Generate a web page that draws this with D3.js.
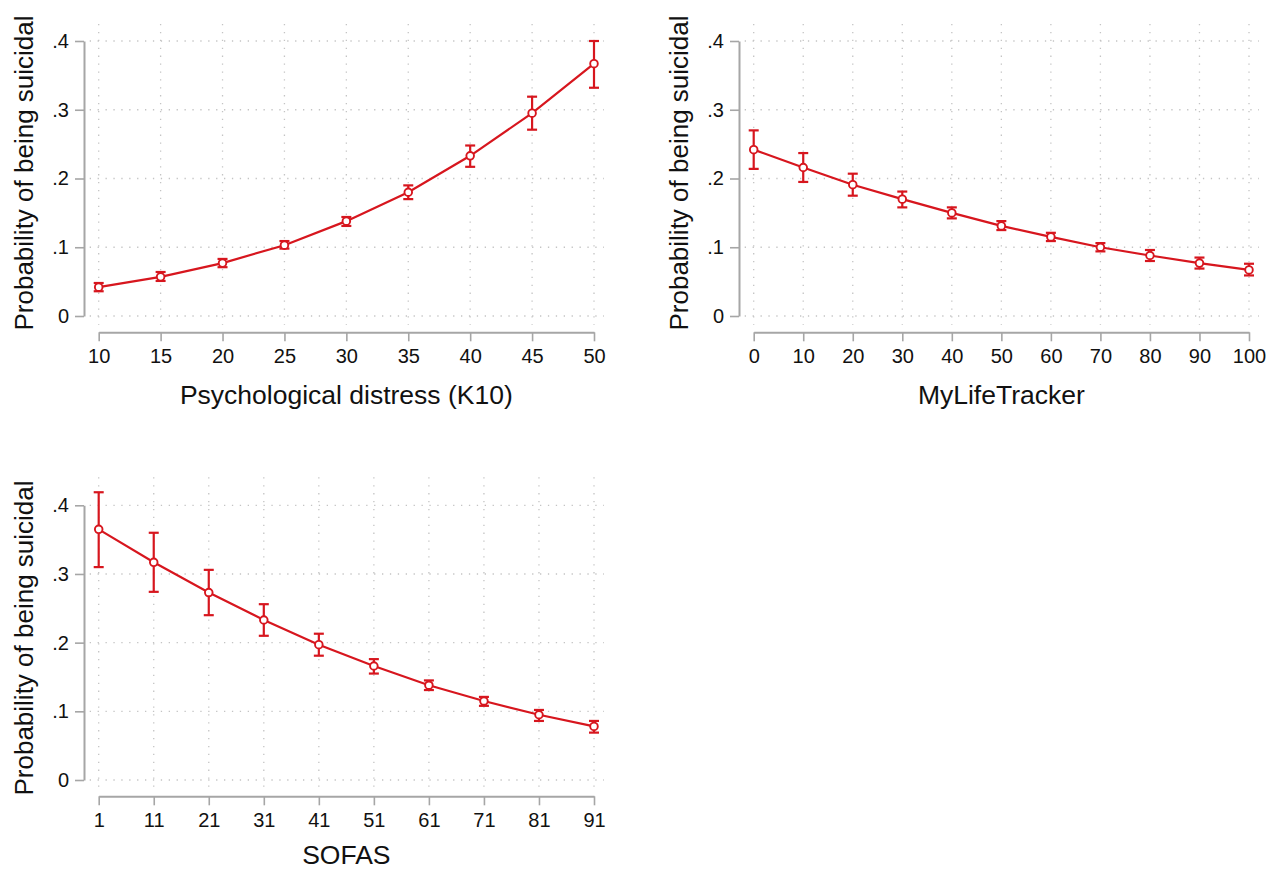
<!DOCTYPE html>
<html>
<head>
<meta charset="utf-8">
<script src="https://cdn.jsdelivr.net/npm/d3@7"></script>
<style>
  body { margin: 0; background: #fff; }
  svg { display: block; font-family: "Liberation Sans", Arial, sans-serif; }
</style>
</head>
<body>
<div id="chart"></div>
<script>
// data
var yTicks = [0, 0.1, 0.2, 0.3, 0.4];

var k10X  = [10, 15, 20, 25, 30, 35, 40, 45, 50];
var k10P  = [0.042, 0.057, 0.077, 0.103, 0.138, 0.180, 0.233, 0.295, 0.367];
var k10Lo = [0.036, 0.051, 0.071, 0.098, 0.131, 0.170, 0.217, 0.271, 0.332];
var k10Hi = [0.048, 0.064, 0.083, 0.109, 0.144, 0.190, 0.248, 0.319, 0.400];

var mltX  = [0, 10, 20, 30, 40, 50, 60, 70, 80, 90, 100];
var mltP  = [0.242, 0.216, 0.191, 0.170, 0.150, 0.131, 0.115, 0.100, 0.088, 0.077, 0.067];
var mltLo = [0.214, 0.195, 0.175, 0.158, 0.142, 0.125, 0.109, 0.094, 0.080, 0.069, 0.059];
var mltHi = [0.270, 0.237, 0.207, 0.181, 0.158, 0.138, 0.121, 0.106, 0.096, 0.085, 0.076];

var sofasX  = [1, 11, 21, 31, 41, 51, 61, 71, 81, 91];
var sofasP  = [0.365, 0.317, 0.273, 0.233, 0.197, 0.166, 0.138, 0.115, 0.095, 0.078];
var sofasLo = [0.310, 0.274, 0.240, 0.210, 0.181, 0.155, 0.131, 0.108, 0.086, 0.069];
var sofasHi = [0.419, 0.360, 0.306, 0.256, 0.213, 0.176, 0.145, 0.121, 0.102, 0.086];

var yTitle = "Probability of being suicidal";
var red = "#d7161e";
var axisGrey = "#a6a6a6";
var gridGrey = "#c4c4c4";

var W = 1266, H = 870;

var panels = [
  { title: "Psychological distress (K10)", xs: k10X, p: k10P, lo: k10Lo, hi: k10Hi,
    x0: 98.7, x1: 594, yBottom: 316, yTop: 41, gridTop: 17, yTitleX: 33, yTitleY: 173, xTitleY: 404 },
  { title: "MyLifeTracker", xs: mltX, p: mltP, lo: mltLo, hi: mltHi,
    x0: 753.7, x1: 1249, yBottom: 316, yTop: 41, gridTop: 17, yTitleX: 688, yTitleY: 173, xTitleY: 404 },
  { title: "SOFAS", xs: sofasX, p: sofasP, lo: sofasLo, hi: sofasHi,
    x0: 98.7, x1: 594, yBottom: 780, yTop: 505.3, gridTop: 28, yTitleX: 33, yTitleY: 638, xTitleY: 864 }
];

var svg = d3.select("#chart").append("svg")
    .attr("width", W)
    .attr("height", H);

panels.forEach(function (pn) {
  var x = d3.scaleLinear()
      .domain([pn.xs[0], pn.xs[pn.xs.length - 1]])
      .range([pn.x0, pn.x1]);
  var y = d3.scaleLinear()
      .domain([0, 0.4])
      .range([pn.yBottom, pn.yTop]);

  var g = svg.append("g");

  var gridLeft = pn.x0 - 9, gridRight = pn.x1 + 10;
  var gridTopY = pn.yTop - pn.gridTop, gridBotY = pn.yBottom + 9;

  // dotted grid
  g.selectAll(".hgrid")
    .data(yTicks)
    .enter()
    .append("line")
    .attr("x1", gridLeft)
    .attr("x2", gridRight)
    .attr("y1", function (d) { return y(d); })
    .attr("y2", function (d) { return y(d); })
    .style("stroke", gridGrey)
    .style("stroke-width", 1.3)
    .style("stroke-dasharray", "1.3,6.6");

  g.selectAll(".vgrid")
    .data(pn.xs)
    .enter()
    .append("line")
    .attr("x1", function (d) { return x(d); })
    .attr("x2", function (d) { return x(d); })
    .attr("y1", gridTopY)
    .attr("y2", gridBotY)
    .style("stroke", gridGrey)
    .style("stroke-width", 1.3)
    .style("stroke-dasharray", "1.3,6.6");

  // axes
  var yAxis = d3.axisLeft(y)
      .tickValues(yTicks)
      .tickSize(9)
      .tickSizeOuter(0)
      .tickPadding(6)
      .tickFormat(function (d) { return d === 0 ? "0" : d3.format(".1f")(d).replace(/^0/, ""); });

  var yg = g.append("g")
      .attr("transform", "translate(" + (pn.x0 - 14.7) + ",0)")
      .call(yAxis);

  var xAxis = d3.axisBottom(x)
      .tickValues(pn.xs)
      .tickSize(9)
      .tickSizeOuter(0)
      .tickPadding(8)
      .tickFormat(d3.format("d"));

  var xg = g.append("g")
      .attr("transform", "translate(0," + (pn.yBottom + 16.3) + ")")
      .call(xAxis);

  [yg, xg].forEach(function (a) {
    a.select(".domain").style("stroke", axisGrey).style("stroke-width", 2);
    a.selectAll(".tick line").style("stroke", axisGrey).style("stroke-width", 1.6);
    a.selectAll(".tick text")
      .style("font-family", "Liberation Sans, Arial, sans-serif")
      .style("font-size", "20px")
      .style("fill", "#111");
  });

  // axis titles
  g.append("text")
    .attr("transform", "translate(" + pn.yTitleX + "," + pn.yTitleY + ") rotate(-90)")
    .attr("text-anchor", "middle")
    .style("font-size", "26px")
    .style("fill", "#111")
    .text(yTitle);

  g.append("text")
    .attr("x", (pn.x0 + pn.x1) / 2)
    .attr("y", pn.xTitleY)
    .attr("text-anchor", "middle")
    .style("font-size", "26.5px")
    .style("fill", "#111")
    .text(pn.title);

  // line through the point estimates
  var pts = pn.xs.map(function (v, i) { return { x: v, p: pn.p[i], lo: pn.lo[i], hi: pn.hi[i] }; });

  var line = d3.line()
      .x(function (d) { return x(d.x); })
      .y(function (d) { return y(d.p); });

  g.append("path")
    .datum(pts)
    .attr("d", line)
    .style("fill", "none")
    .style("stroke", red)
    .style("stroke-width", 2.2);

  // error bars
  var bars = g.selectAll(".ci")
      .data(pts)
      .enter()
      .append("g");

  bars.append("line")
    .attr("x1", function (d) { return x(d.x); })
    .attr("x2", function (d) { return x(d.x); })
    .attr("y1", function (d) { return y(d.lo); })
    .attr("y2", function (d) { return y(d.hi); })
    .style("stroke", red)
    .style("stroke-width", 2.2);

  bars.selectAll(".cap")
    .data(function (d) { return [d.lo, d.hi].map(function (v) { return { x: d.x, v: v }; }); })
    .enter()
    .append("line")
    .attr("x1", function (d) { return x(d.x) - 5; })
    .attr("x2", function (d) { return x(d.x) + 5; })
    .attr("y1", function (d) { return y(d.v); })
    .attr("y2", function (d) { return y(d.v); })
    .style("stroke", red)
    .style("stroke-width", 2.2);

  // hollow markers
  g.selectAll(".pt")
    .data(pts)
    .enter()
    .append("circle")
    .attr("cx", function (d) { return x(d.x); })
    .attr("cy", function (d) { return y(d.p); })
    .attr("r", 3.8)
    .style("fill", "white")
    .style("stroke", red)
    .style("stroke-width", 1.9);
});
</script>
</body>
</html>
